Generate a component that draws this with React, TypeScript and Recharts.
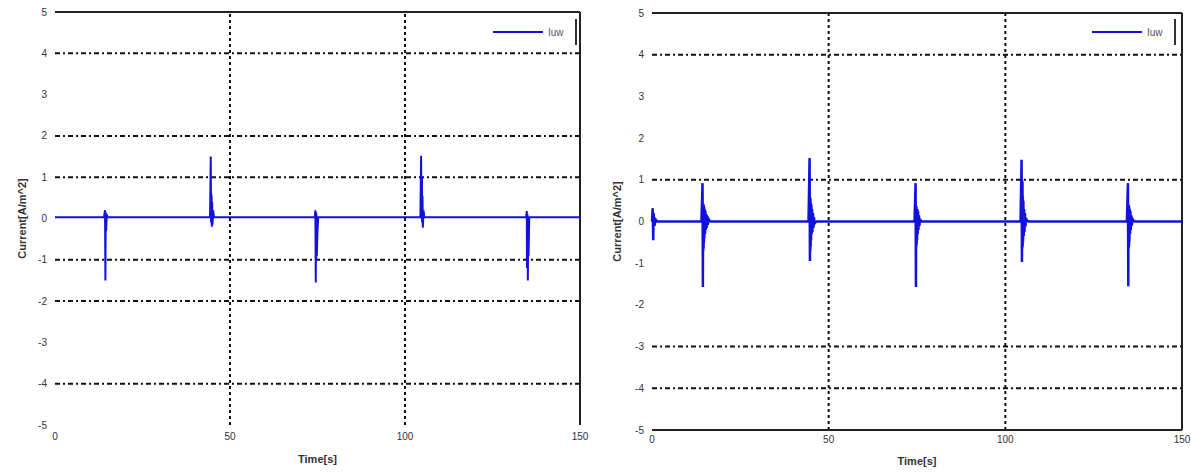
import React from "react";
import { LineChart, Line, XAxis, YAxis, ReferenceLine, Legend } from "recharts";

// Axis ticks shared by both panels
const timeTicks = [0, 50, 100, 150];
const currentTicks = [-5, -4, -3, -2, -1, 0, 1, 2, 3, 4, 5];

// Left panel: Iuw current, switching transients
const leftTime = [
  0, 14.0, 14.3, 14.4, 14.5, 14.6, 14.8, 15.0,
  44.3, 44.5, 44.6, 44.65, 44.7, 44.75, 44.8, 44.9, 45.0, 45.2, 45.4,
  74.2, 74.4, 74.5, 74.6, 74.65, 74.7, 74.8, 75.0, 75.2,
  104.4, 104.6, 104.7, 104.75, 104.8, 104.85, 104.9, 105.0, 105.1, 105.3, 105.5,
  134.6, 134.8, 134.85, 134.9, 134.95, 135.0, 135.1, 135.2, 135.3, 135.5, 150,
];
const leftCurrent = [
  0.03, 0.03, 0.2, -1.5, 0.15, -0.3, 0.1, 0.03,
  0.03, 1.5, -0.1, 0.6, -0.05, 0.55, -0.2, 0.4, -0.15, 0.2, 0.03,
  0.03, 0.2, -1.55, 0.15, -1.0, 0.1, -0.9, -0.3, 0.03,
  0.03, 1.52, 0.0, 1.0, 0.05, 1.0, -0.1, 0.55, -0.22, 0.2, 0.03,
  0.03, 0.18, -1.2, 0.1, -1.2, 0.1, -1.5, 0.05, -0.9, 0.03, 0.03,
];

// Right panel: Iuw current with ringing after each switching event
const rightTime = [
  0, 0.2, 0.3, 0.35, 0.45, 0.5, 0.7, 1.0, 1.5,
  14.0, 14.3, 14.4, 14.45, 14.5, 14.55, 14.6, 14.65, 14.7, 14.75, 14.8, 14.9, 15.0, 15.1, 15.2, 15.35, 15.5, 15.65, 15.8, 16.0, 16.2, 16.6,
  44.3, 44.6, 44.7, 44.75, 44.8, 44.85, 44.9, 44.95, 45.0, 45.1, 45.2, 45.3, 45.4, 45.55, 45.7, 45.85, 46.0, 46.5,
  74.3, 74.6, 74.7, 74.75, 74.8, 74.85, 74.9, 74.95, 75.0, 75.1, 75.2, 75.3, 75.4, 75.55, 75.7, 75.85, 76.0, 76.4,
  104.3, 104.6, 104.7, 104.75, 104.8, 104.85, 104.9, 104.95, 105.0, 105.1, 105.2, 105.3, 105.4, 105.55, 105.7, 105.85, 106.0, 106.5,
  134.4, 134.7, 134.8, 134.85, 134.9, 134.95, 135.0, 135.05, 135.1, 135.2, 135.3, 135.4, 135.5, 135.65, 135.8, 136.0, 136.2, 136.6, 150,
];
const rightCurrent = [
  0, 0.32, -0.2, -0.45, 0.2, 0.15, -0.1, 0.05, 0,
  0, 0.92, -1.57, 0.4, -0.7, 0.42, -0.65, 0.38, -0.5, 0.35, -0.4, 0.3, -0.3, 0.25, -0.2, 0.18, -0.15, 0.12, -0.08, 0.06, 0.03, 0,
  0, 1.52, -0.95, 0.58, -0.7, 0.55, -0.6, 0.45, -0.45, 0.4, -0.3, 0.3, -0.25, 0.2, -0.15, 0.1, -0.05, 0,
  0, 0.92, -1.57, 0.38, -0.6, 0.35, -0.55, 0.3, -0.45, 0.3, -0.3, 0.25, -0.2, 0.15, -0.1, 0.06, 0.03, 0,
  0, 1.48, -0.97, 1.0, -0.65, 0.95, -0.6, 0.6, -0.5, 0.5, -0.35, 0.3, -0.25, 0.2, -0.12, 0.08, 0.04, 0,
  0, 0.92, -1.55, 0.4, -0.65, 0.4, -0.6, 0.35, -0.5, 0.3, -0.3, 0.25, -0.2, 0.15, -0.1, 0.06, 0.03, 0, 0,
];

// Dash-dot grid rows drawn in each panel
const leftGridY = [4, 2, 1, -1, -2, -4];
const rightGridY = [4, 1, -3, -4];
const gridX = [50, 100];

const seriesName = "Iuw";
const yTitle = "Current[A/m^2]";
const xTitle = "Time[s]";

const FONT = '"Liberation Sans", Arial, sans-serif';
const BLUE = "#1212dc";

const toRows = (t: number[], v: number[]) => t.map((time, i) => ({ time, current: v[i] }));

const LegendBox = () => (
  <div
    style={{
      display: "flex",
      alignItems: "center",
      height: 26,
      paddingLeft: 8,
      borderRight: "2px solid #333",
      boxSizing: "border-box",
      fontFamily: FONT,
      fontSize: 10,
      color: "#555",
    }}
  >
    <svg width={50} height={4}>
      <line x1={0} y1={2} x2={50} y2={2} stroke={BLUE} strokeWidth={2} />
    </svg>
    <span style={{ marginLeft: 5 }}>{seriesName}</span>
  </div>
);

const yLabel = (cx: number) => (props: any) => {
  const vb = props.viewBox || {};
  const cy = (vb.y ?? 0) + (vb.height ?? 0) / 2;
  return (
    <text
      x={cx}
      y={cy}
      transform={`rotate(-90, ${cx}, ${cy})`}
      textAnchor="middle"
      dominantBaseline="central"
      fontSize={11}
      fontWeight={600}
      fill="#333"
      fontFamily={FONT}
    >
      {yTitle}
    </text>
  );
};

type PanelProps = {
  rows: { time: number; current: number }[];
  gridY: number[];
  width: number;
  height: number;
  margin: { top: number; right: number; bottom: number; left: number };
  yAxisWidth: number;
  xAxisHeight: number;
  tickMargin: number;
  labelOffset: number;
  yLabelX: number;
  legendLeft: number;
  strokeWidth: number;
  bottomBorder: boolean;
};

const Panel = (p: PanelProps) => (
  <LineChart width={p.width} height={p.height} data={p.rows} margin={p.margin} style={{ fontFamily: FONT }}>
    <XAxis
      type="number"
      dataKey="time"
      domain={[0, 150]}
      ticks={timeTicks}
      interval={0}
      tickLine={false}
      axisLine={false}
      height={p.xAxisHeight}
      tickMargin={p.tickMargin}
      tick={{ fontSize: 10, fill: "#333" }}
      label={{ value: xTitle, position: "insideBottom", offset: p.labelOffset, fontSize: 11, fontWeight: 600, fill: "#333" }}
    />
    <YAxis
      type="number"
      domain={[-5, 5]}
      ticks={currentTicks}
      interval={0}
      tickLine={false}
      axisLine={false}
      width={p.yAxisWidth}
      tick={{ fontSize: 10, fill: "#333" }}
      label={{ content: yLabel(p.yLabelX) } as any}
    />
    {p.gridY.map((v) => (
      <ReferenceLine key={`gy${v}`} y={v} stroke="#111" strokeWidth={2} strokeDasharray="5 3 2 3" />
    ))}
    {gridX.map((v) => (
      <ReferenceLine key={`gx${v}`} x={v} stroke="#111" strokeWidth={2} strokeDasharray="3 3" />
    ))}
    <ReferenceLine y={5} stroke="#222" strokeWidth={2} />
    <ReferenceLine x={150} stroke="#222" strokeWidth={2} />
    {p.bottomBorder && <ReferenceLine y={-5} stroke="#222" strokeWidth={2} />}
    <Legend
      layout="horizontal"
      verticalAlign="middle"
      align="center"
      content={<LegendBox />}
      wrapperStyle={{ top: 19, left: p.legendLeft, width: 92, height: 26 }}
    />
    <Line
      type="linear"
      dataKey="current"
      name={seriesName}
      stroke={BLUE}
      strokeWidth={p.strokeWidth}
      dot={false}
      isAnimationActive={false}
    />
  </LineChart>
);

export default function App() {
  return (
    <div style={{ position: "absolute", left: 0, top: 0, width: 1191, height: 474, background: "#fff" }}>
      <div style={{ position: "absolute", left: 0, top: 0 }}>
        <Panel
          rows={toRows(leftTime, leftCurrent)}
          gridY={leftGridY}
          width={595}
          height={474}
          margin={{ top: 12, right: 15, bottom: 9, left: 0 }}
          yAxisWidth={55}
          xAxisHeight={40}
          tickMargin={2}
          labelOffset={2}
          yLabelX={22}
          legendLeft={485}
          strokeWidth={2}
          bottomBorder={false}
        />
      </div>
      <div style={{ position: "absolute", left: 595, top: 0 }}>
        <Panel
          rows={toRows(rightTime, rightCurrent)}
          gridY={rightGridY}
          width={596}
          height={474}
          margin={{ top: 13, right: 9, bottom: 9, left: 0 }}
          yAxisWidth={57}
          xAxisHeight={35}
          tickMargin={0}
          labelOffset={0}
          yLabelX={22}
          legendLeft={489}
          strokeWidth={2.5}
          bottomBorder={true}
        />
      </div>
    </div>
  );
}
